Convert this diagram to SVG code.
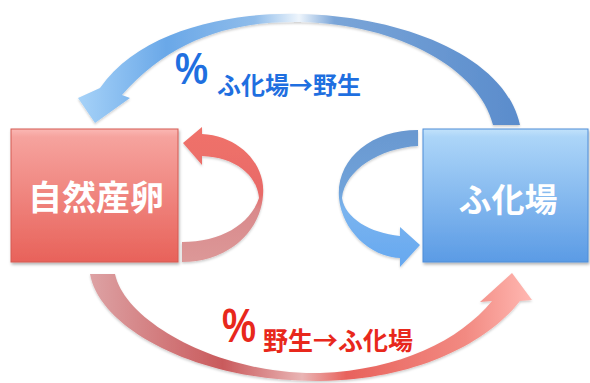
<svg xmlns="http://www.w3.org/2000/svg" width="590" height="383" viewBox="0 0 590 383">
<style>
.box-text{font-family:'Noto Sans CJK JP','Noto Sans',sans-serif;font-weight:bold;fill:#ffffff;text-anchor:middle}
.lbl{font-family:'Noto Sans CJK JP','Noto Sans',sans-serif;font-weight:bold}
.pct{font-family:'Liberation Sans','Noto Sans',sans-serif;font-weight:bold}
.blue{fill:#1f6fe0}
.red{fill:#e8281c}
</style>
<defs>
<filter id="sh" x="-10%" y="-10%" width="120%" height="130%">
<feDropShadow dx="1" dy="2" stdDeviation="1.6" flood-color="#000" flood-opacity="0.3"/>
</filter>
<filter id="sh2" x="-10%" y="-10%" width="120%" height="130%">
<feDropShadow dx="0" dy="1.5" stdDeviation="1.2" flood-color="#000" flood-opacity="0.2"/>
</filter>
<linearGradient id="gRedBox" x1="0" y1="129" x2="0" y2="262" gradientUnits="userSpaceOnUse">
<stop offset="0" stop-color="#fbb8b4"/>
<stop offset="0.06" stop-color="#f6a39e"/>
<stop offset="1" stop-color="#e8625a"/>
</linearGradient>
<linearGradient id="gBlueBox" x1="0" y1="129" x2="0" y2="262" gradientUnits="userSpaceOnUse">
<stop offset="0" stop-color="#c2e2fb"/>
<stop offset="0.06" stop-color="#acd5f8"/>
<stop offset="1" stop-color="#5b9be5"/>
</linearGradient>
<linearGradient id="gTop" x1="78" y1="0" x2="520" y2="0" gradientUnits="userSpaceOnUse">
<stop offset="0" stop-color="#a6d2f8"/>
<stop offset="0.2" stop-color="#6aa8e8"/>
<stop offset="0.4" stop-color="#8fbcea"/>
<stop offset="0.5" stop-color="#eef5fc"/>
<stop offset="0.58" stop-color="#7aa5d8"/>
<stop offset="1" stop-color="#5a8ccc"/>
</linearGradient>
<linearGradient id="gBot" x1="90" y1="0" x2="532" y2="0" gradientUnits="userSpaceOnUse">
<stop offset="0" stop-color="#dda2a4"/>
<stop offset="0.3" stop-color="#c95a5c"/>
<stop offset="0.48" stop-color="#e9b4b4"/>
<stop offset="0.58" stop-color="#e8625c"/>
<stop offset="0.85" stop-color="#f28a82"/>
<stop offset="1" stop-color="#ffb8b2"/>
</linearGradient>
<linearGradient id="gRedLoop" x1="0" y1="127" x2="0" y2="262" gradientUnits="userSpaceOnUse">
<stop offset="0" stop-color="#f0726a"/>
<stop offset="0.5" stop-color="#e86a68"/>
<stop offset="0.62" stop-color="#d98a8c"/>
<stop offset="1" stop-color="#dc9898"/>
</linearGradient>
<linearGradient id="gBlueLoop" x1="0" y1="130" x2="0" y2="267" gradientUnits="userSpaceOnUse">
<stop offset="0" stop-color="#6a98d0"/>
<stop offset="0.45" stop-color="#70a3da"/>
<stop offset="0.58" stop-color="#7ab4ef"/>
<stop offset="1" stop-color="#66a8f0"/>
</linearGradient>
</defs>

<g id="connectors">
<g id="arc-hatchery-to-wild" filter="url(#sh2)">
<path d="M95,123 L78,98 L100,88 C140,30 230,12 300,14 C400,16 505,55 520,125 L493,125 C480,70 400,24 300,22 C230,21 170,40 122,95 L130,98 Z" fill="url(#gTop)"/>
</g>
<g id="arc-wild-to-hatchery" filter="url(#sh2)">
<path d="M90,274 C100,330 200,382 320,381 C420,380 490,340 520,301 L532,300 L512,273 L480,302 L492,301 C460,340 400,370 320,373 C220,375 125,322 115,274 Z" fill="url(#gBot)"/>
</g>
<g id="loop-wild" filter="url(#sh2)">
<path d="M183,143 L202,127 L202,134 C240,136 266,165 263,195 C261,230 230,262 182,262 L182,242 C220,242 250,225 259,198 C257,175 235,157 202,156 L202,165 Z" fill="url(#gRedLoop)"/>
</g>
<g id="loop-hatchery" filter="url(#sh2)">
<path d="M420,245 L400,227 L400,236 C370,233 345,218 342,198 C345,170 380,148 418,146 L418,130 C370,130 336,160 339,198 C342,230 370,257 400,258 L400,267 Z" fill="url(#gBlueLoop)"/>
</g>
</g>

<g id="node-wild">
<rect x="11" y="129" width="167" height="133" fill="url(#gRedBox)" stroke="#d45a52" stroke-width="1" filter="url(#sh)"/>
<text class="box-text" x="96" y="210" font-size="34">自然産卵</text>
</g>

<g id="node-hatchery">
<rect x="423" y="129" width="165" height="133" fill="url(#gBlueBox)" stroke="#4e8ed8" stroke-width="1" filter="url(#sh)"/>
<text class="box-text" x="508" y="212" font-size="33">ふ化場</text>
</g>

<g id="label-top">
<text class="pct blue" x="175" y="84" font-size="44" textLength="33" lengthAdjust="spacingAndGlyphs">%</text>
<text class="lbl blue" x="217" y="94" font-size="24">ふ化場→野生</text>
</g>

<g id="label-bottom">
<text class="pct red" x="222" y="342" font-size="48" textLength="34" lengthAdjust="spacingAndGlyphs">%</text>
<text class="lbl red" x="263" y="350" font-size="25">野生→ふ化場</text>
</g>
</svg>
